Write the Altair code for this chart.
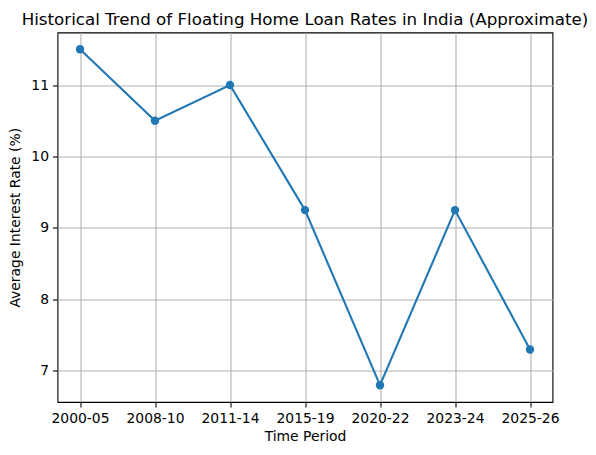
import altair as alt
import pandas as pd

periods = ["2000-05", "2008-10", "2011-14", "2015-19", "2020-22", "2023-24", "2025-26"]
rates = [11.5, 10.5, 11.0, 9.25, 6.8, 9.25, 7.3]

df = pd.DataFrame({"period": periods, "rate": rates})

FONT = "DejaVu Sans"
BLUE = "#1f77b4"

x = alt.X("period:O", sort=periods, title="Time Period",
          scale=alt.Scale(type="point", padding=0.3),
          axis=alt.Axis(labelAngle=0, grid=True, gridColor="#b0b0b0", gridWidth=1.1,
                        domain=False, tickColor="black", tickSize=5, tickWidth=1.1,
                        labelPadding=4, labelFontSize=13.9, labelFont=FONT, labelColor="black",
                        titleFont=FONT, titleFontSize=13.9, titleFontWeight="normal",
                        titleColor="black", titlePadding=5))
y = alt.Y("rate:Q", title="Average Interest Rate (%)",
          scale=alt.Scale(domain=[6.565, 11.735], nice=False, zero=False),
          axis=alt.Axis(values=[7, 8, 9, 10, 11], grid=True, gridColor="#b0b0b0", gridWidth=1.1,
                        domain=False, tickColor="black", tickSize=5, tickWidth=1.1,
                        labelPadding=4, labelFontSize=13.9, labelFont=FONT, labelColor="black",
                        titleFont=FONT, titleFontSize=13.9, titleFontWeight="normal",
                        titleColor="black", titlePadding=8))

base = alt.Chart(df).encode(x=x, y=y)
line = base.mark_line(color=BLUE, strokeWidth=2.1)
pts = base.mark_circle(color=BLUE, size=70, opacity=1)

chart = (line + pts).properties(
    width=495, height=369.5,
    background="white",
    title=alt.TitleParams("Historical Trend of Floating Home Loan Rates in India (Approximate)",
                          font=FONT, fontSize=16.7, fontWeight="normal", color="black",
                          anchor="middle", baseline="alphabetic", frame="group", offset=8, dy=17),
    padding={"left": 49.5, "top": 24.5, "right": 35.5, "bottom": 45},
    autosize=alt.AutoSizeParams(type="none"),
).configure_view(stroke="black", strokeWidth=1.1)

chart.save("out.html", embed_options={"renderer": "svg", "actions": False})
